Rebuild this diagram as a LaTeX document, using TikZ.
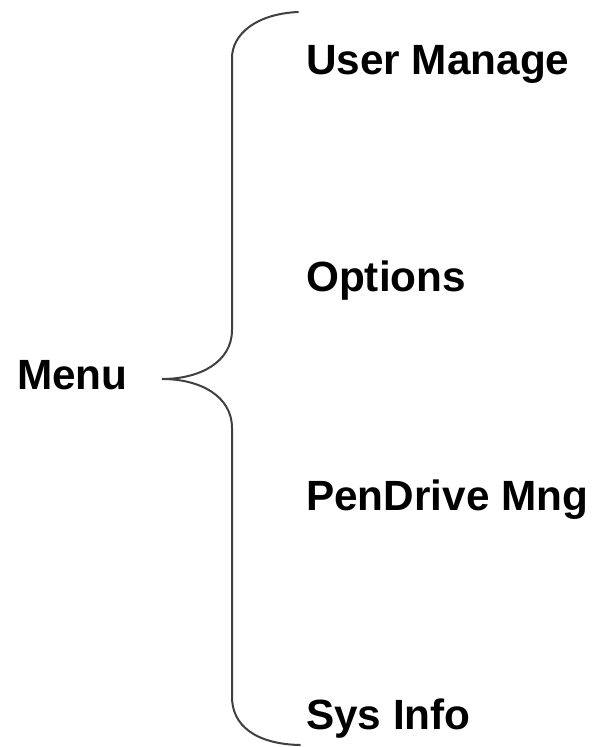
\documentclass[tikz,border=0pt]{standalone}
\usepackage{fontspec}
\setmainfont{Liberation Sans}
\begin{document}
\begin{tikzpicture}[x=1pt,y=-1pt,
  lbl/.style={anchor=base west,inner sep=0pt,font=\fontsize{42.3}{46}\selectfont\bfseries},
  brace/.style={line width=2pt,draw=black!75,line cap=round}]
\useasboundingbox (0,0) rectangle (594,747);
\node[lbl] (menu) at (17,389) {Menu};
\node[lbl] (user) at (306,74) {User Manage};
\node[lbl] (opt) at (306,291) {Options};
\node[lbl] (pen) at (306,510) {PenDrive Mng};
\node[lbl] (sys) at (306,729) {Sys Info};
\coordinate (top) at (298,12);
\coordinate (tip) at (162,379);
\coordinate (bot) at (300,745);
\draw[brace] (top) .. controls (255,14) and (232,35) .. (232,58) -- (232,330)
  .. controls (232,362) and (200,379) .. (tip)
  .. controls (200,379) and (232,396) .. (232,428) -- (232,697)
  .. controls (232,725) and (255,744) .. (bot);
\end{tikzpicture}
\end{document}
